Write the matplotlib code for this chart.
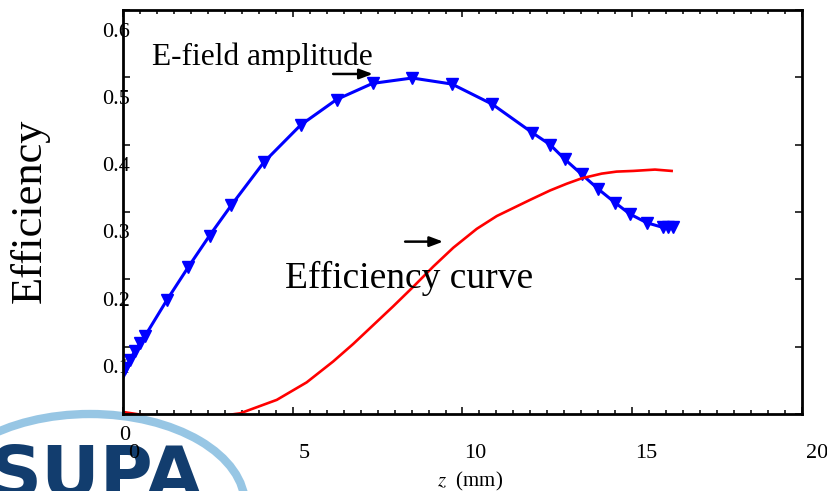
import matplotlib.pyplot as plt
from matplotlib.patches import Ellipse

plt.rcParams['font.family'] = ['Liberation Serif', 'DejaVu Serif']
plt.rcParams['mathtext.fontset'] = 'stix'

# E-field amplitude (blue, triangle markers)
z_field = [0.0, 0.06, 0.21, 0.35, 0.50, 0.65, 1.29, 1.92, 2.55, 3.19, 4.15,
           5.23, 6.29, 7.35, 8.52, 9.69, 10.88, 12.05, 12.58, 13.02, 13.51,
           14.00, 14.49, 14.93, 15.43, 15.91, 16.05, 16.19]
field = [0.062, 0.068, 0.080, 0.094, 0.105, 0.116, 0.169, 0.218, 0.265, 0.310,
         0.374, 0.429, 0.467, 0.491, 0.499, 0.490, 0.460, 0.418, 0.400, 0.378,
         0.356, 0.334, 0.314, 0.297, 0.284, 0.277, 0.277, 0.278]

# efficiency curve (red)
z_eff = [0.0, 0.65, 1.5, 2.5, 3.3, 3.45, 4.53, 5.41, 6.19, 6.78, 7.37, 7.96,
         8.55, 9.14, 9.73, 10.42, 11.01, 11.99, 12.58, 13.07, 13.51, 14.10,
         14.54, 15.03, 15.67, 16.16]
eff = [0.003, -0.002, -0.008, -0.006, 0.0, 0.001, 0.021, 0.047, 0.078, 0.104,
       0.132, 0.160, 0.189, 0.219, 0.247, 0.275, 0.294, 0.318, 0.332, 0.342,
       0.350, 0.357, 0.360, 0.361, 0.363, 0.361]

x_ticks = [0, 5, 10, 15, 20]
x_tick_labels = ['0', '5', '10', '15', '20']
y_ticks = [0, 0.1, 0.2, 0.3, 0.4, 0.5, 0.6]
y_tick_labels = ['0', '0.1', '0.2', '0.3', '0.4', '0.5', '0.6']

W, H = 828, 491
fig = plt.figure(figsize=(W / 100, H / 100), dpi=100)

# logo in the lower left corner (pixel coordinates)
logo = fig.add_axes([0, 0, 1, 1], zorder=0)
logo.set_xlim(0, W)
logo.set_ylim(H, 0)
logo.axis('off')
logo.add_patch(Ellipse((90, 505), 310, 182, fill=False, lw=6,
                       color='#8cc0e2', alpha=0.9))
logo.text(-10, 497, 'SUPA', family='DejaVu Sans', fontweight='heavy',
          fontsize=52, color='#123d6e', va='baseline', ha='left')

# tick labels (drawn slightly offset from the ticks, as in the original)
lab = fig.add_axes([134 / W, (H - 433) / H, 683 / W, 403 / H], zorder=1)
lab.patch.set_visible(False)
for s in lab.spines.values():
    s.set_visible(False)
lab.set_xlim(0, 20)
lab.set_ylim(0, 0.6)
lab.set_xticks(x_ticks, x_tick_labels)
lab.set_yticks(y_ticks, y_tick_labels)
lab.tick_params(length=0, labelsize=16)
lab.tick_params(axis='x', pad=8)
lab.tick_params(axis='y', pad=3)

# main plot
ax = fig.add_axes([123 / W, (H - 414) / H, 679 / W, 404 / H], zorder=2)
ax.patch.set_visible(False)
ax.plot(z_field, field, color='blue', lw=2.2, marker='v', ms=8,
        mfc='blue', mec='blue', mew=1.0)
ax.plot(z_eff, eff, color='red', lw=1.9)
ax.set_xlim(0, 20)
ax.set_ylim(0, 0.6)
ax.set_xticks(x_ticks)
ax.set_xticks([i * 0.5 for i in range(41)], minor=True)
ax.set_yticks(y_ticks)
ax.tick_params(which='both', direction='in', top=True, right=True,
               labelbottom=False, labelleft=False, width=1.1)
ax.tick_params(which='major', length=5)
ax.tick_params(which='minor', length=2.8)
for s in ax.spines.values():
    s.set_linewidth(2)

ax.text(0.85, 0.518, 'E-field amplitude', fontsize=22.7, va='baseline')
ax.text(4.77, 0.187, 'Efficiency curve', fontsize=27, va='baseline')
arrow = dict(arrowstyle='-|>,head_length=0.8,head_width=0.3', color='black',
             lw=1.8, shrinkA=0, shrinkB=0)
ax.annotate('', xy=(7.36, 0.505), xytext=(6.19, 0.505), arrowprops=arrow)
ax.annotate('', xy=(9.43, 0.256), xytext=(8.31, 0.256), arrowprops=arrow)

fig.text(30 / W, 1 - 211 / H, 'Efficiency', rotation=90, fontsize=32,
         ha='center', va='center')
fig.text(470 / W, 1 - 481 / H, r'$z$  (mm)', fontsize=15,
         ha='center', va='center')

fig.savefig('out.png', dpi=100)
